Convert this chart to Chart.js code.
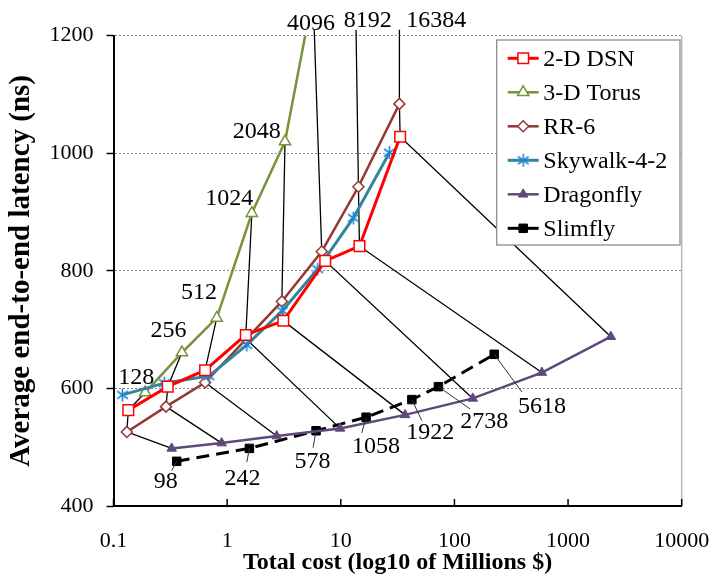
<!DOCTYPE html>
<html>
<head>
<meta charset="utf-8">
<title>Latency vs cost</title>
<script src="https://cdn.jsdelivr.net/npm/chart.js@4.4.1/dist/chart.umd.min.js"></script>
<style>
  html, body { margin: 0; padding: 0; background: #fff; }
  #wrap { width: 713px; height: 576px; }
</style>
</head>
<body>
<div id="wrap"><canvas id="chart" width="713" height="576"></canvas></div>
<script>
// node counts shared by the regular topologies (one entry per size)
const nodeCounts = [128, 256, 512, 1024, 2048, 4096, 8192, 16384];

// total cost in millions $, average latency in ns
const dsnCost = [0.135, 0.30, 0.64, 1.46, 3.12, 7.3, 14.6, 33.3];
const dsnLatency = [563, 603, 631, 691, 715, 817, 842, 1028];

// 4096 and up run past the top of the latency axis
const torusCost = [0.19, 0.40, 0.81, 1.65, 3.23, 5.7, 12.7, 33];
const torusLatency = [593, 661, 720, 898, 1020, 1270, 1600, 2200];

const rr6Cost = [0.131, 0.29, 0.64, 1.47, 3.03, 6.8, 14.3, 32.8];
const rr6Latency = [526, 569, 610, 684, 748, 833, 943, 1084];

const skywalkCost = [0.12, 0.28, 0.69, 1.49, 3.06, 6.27, 12.9, 26.8];
const skywalkLatency = [589, 609, 621, 674, 732, 803, 890, 1001];

const dragonflyCost = [0.325, 0.895, 2.73, 9.86, 36.8, 145, 588, 2380];
const dragonflyLatency = [498, 507, 519, 532, 555, 583, 627, 688];

// slimfly has its own node counts
const slimflyNodes = [98, 242, 578, 1058, 1922, 2738, 5618];
const slimflyCost = [0.36, 1.57, 6.06, 16.7, 42.2, 72.3, 224];
const slimflyLatency = [476, 498, 528, 551, 581, 603, 658];

const costTicks = [0.1, 1, 10, 100, 1000, 10000];
const latencyTicks = [400, 600, 800, 1000, 1200];

const SERIF = "'Liberation Serif', 'Times New Roman', Times, serif";
Chart.defaults.font.family = SERIF;
Chart.defaults.color = '#000';

function pts(xs, ys) {
  return xs.map((x, i) => ({ x: x, y: ys[i] }));
}

// six-spoke asterisk marker for Skywalk
function makeAsterisk(color) {
  const c = document.createElement('canvas');
  c.width = 15; c.height = 15;
  const g = c.getContext('2d');
  g.strokeStyle = color;
  g.lineWidth = 1.6;
  [90, 35, -35].forEach(deg => {
    const r = 6.5, a = deg * Math.PI / 180;
    g.beginPath();
    g.moveTo(7.5 - r * Math.cos(a), 7.5 - r * Math.sin(a));
    g.lineTo(7.5 + r * Math.cos(a), 7.5 + r * Math.sin(a));
    g.stroke();
  });
  return c;
}

// thin black links joining the same node count across topologies
const groupLinks = nodeCounts.map((n, i) => {
  const upper = [
    { x: torusCost[i], y: torusLatency[i] },
    { x: rr6Cost[i], y: rr6Latency[i] },
    { x: dsnCost[i], y: dsnLatency[i] }
  ].sort((a, b) => b.y - a.y);
  return upper.concat([{ x: dragonflyCost[i], y: dragonflyLatency[i] }]);
});

const datasets = [
  {
    label: '2-D DSN', data: pts(dsnCost, dsnLatency),
    borderColor: '#FF0000', borderWidth: 3,
    pointStyle: 'rect', pointRadius: 7.5, pointBorderWidth: 1.5,
    pointBorderColor: '#FF0000', pointBackgroundColor: '#FFFFFF', order: 1
  },
  {
    label: '3-D Torus', data: pts(torusCost, torusLatency),
    borderColor: '#77933C', borderWidth: 2.5,
    pointStyle: 'triangle', pointRadius: 6.5, pointBorderWidth: 1.5,
    pointBorderColor: '#77933C', pointBackgroundColor: '#FFFFFF', order: 3
  },
  {
    label: 'RR-6', data: pts(rr6Cost, rr6Latency),
    borderColor: '#953735', borderWidth: 2.5,
    pointStyle: 'rectRot', pointRadius: 5.5, pointBorderWidth: 1.5,
    pointBorderColor: '#953735', pointBackgroundColor: '#FFFFFF', order: 4
  },
  {
    label: 'Skywalk-4-2', data: pts(skywalkCost, skywalkLatency),
    borderColor: '#31859C', borderWidth: 3,
    pointStyle: makeAsterisk('#1F86D8'), pointRadius: 7, pointBorderWidth: 0,
    pointBorderColor: '#1F86D8', pointBackgroundColor: '#1F86D8', order: 2
  },
  {
    label: 'Dragonfly', data: pts(dragonflyCost, dragonflyLatency),
    borderColor: '#5F497A', borderWidth: 2.5,
    pointStyle: 'triangle', pointRadius: 5.5, pointBorderWidth: 1,
    pointBorderColor: '#5F497A', pointBackgroundColor: '#5F497A', order: 5
  },
  {
    label: 'Slimfly', data: pts(slimflyCost, slimflyLatency),
    borderColor: '#000000', borderWidth: 3, borderDash: [13, 7],
    pointStyle: 'rect', pointRadius: 6, pointBorderWidth: 1,
    pointBorderColor: '#000000', pointBackgroundColor: '#000000', order: 6
  }
];
datasets.forEach(ds => { ds.clip = 0; });

groupLinks.forEach((link, i) => {
  datasets.push({
    label: 'N=' + nodeCounts[i], data: link, isLink: true,
    borderColor: '#000000', borderWidth: 1.3, pointRadius: 0,
    clip: { left: 0, top: 6, right: 0, bottom: 0 }, order: 10
  });
});

// label placement: [dx of text centre, dy of baseline]
const groupLabelShift = [[-9, -9], [-13.4, -16], [-17.7, -18.7], [-22.7, -8], [-28.3, -3.4],
  [-3.5, -5.7], [11.5, -8.7], [36.7, -8.7]];
const slimLabelShift = [[-11, 27], [-6.8, 36.7], [-3.5, 37], [9.8, 35.7], [18.3, 39], [45.8, 41.3], [47.7, 58.7]];
const slimLeaderEnd = [[-5, 9.3], [-2.6, 13.7], [-3, 17], [-4.3, 15.7], [10, 21], [31.7, 22.3], [27.7, 37.7]];

// right frame line and inward x ticks
const framePlugin = {
  id: 'frame',
  beforeDatasetsDraw(chart) {
    const { ctx, chartArea: a, scales: { x } } = chart;
    ctx.save();
    ctx.strokeStyle = '#B8B8B8';
    ctx.lineWidth = 1.5;
    ctx.beginPath();
    ctx.moveTo(a.right, a.top);
    ctx.lineTo(a.right, a.bottom);
    ctx.stroke();
    ctx.strokeStyle = '#000';
    ctx.lineWidth = 1.5;
    x.ticks.forEach(t => {
      const px = x.getPixelForValue(t.value);
      ctx.beginPath();
      ctx.moveTo(px, a.bottom);
      ctx.lineTo(px, a.bottom - 7);
      ctx.stroke();
    });
    ctx.restore();
  }
};

// node count labels and slimfly labels with leader lines
const labelPlugin = {
  id: 'nodeLabels',
  afterDatasetsDraw(chart) {
    const { ctx, chartArea: a, scales: { x, y } } = chart;
    ctx.save();
    ctx.font = '24px ' + SERIF;
    ctx.fillStyle = '#000';
    ctx.textAlign = 'center';
    ctx.textBaseline = 'alphabetic';

    nodeCounts.forEach((n, i) => {
      const px = x.getPixelForValue(torusCost[i]);
      const py = y.getPixelForValue(torusLatency[i]);
      const s = groupLabelShift[i];
      if (py >= a.top) {
        ctx.fillText(String(n), px + s[0], py + s[1]);
      } else {
        // where the link leaves the top of the plot
        const p1 = groupLinks[i][1];
        const qx = x.getPixelForValue(p1.x), qy = y.getPixelForValue(p1.y);
        const cx = px + (qx - px) * (a.top - py) / (qy - py);
        ctx.fillText(String(n), cx + s[0], a.top + s[1]);
      }
    });

    ctx.strokeStyle = '#333';
    ctx.lineWidth = 1;
    slimflyNodes.forEach((n, i) => {
      const px = x.getPixelForValue(slimflyCost[i]);
      const py = y.getPixelForValue(slimflyLatency[i]);
      const e = slimLeaderEnd[i], s = slimLabelShift[i];
      ctx.beginPath();
      ctx.moveTo(px, py);
      ctx.lineTo(px + e[0], py + e[1]);
      ctx.stroke();
      ctx.fillText(String(n), px + s[0], py + s[1]);
    });
    ctx.restore();
  }
};

// boxed legend inside the plot, line sample plus marker
const legendPlugin = {
  id: 'boxLegend',
  afterDraw(chart) {
    const { ctx, chartArea: a } = chart;
    const left = a.right - 185, top = a.top + 4.3, w = 183.3, h = 205;
    ctx.save();
    ctx.fillStyle = '#fff';
    ctx.fillRect(left, top, w, h);
    ctx.strokeStyle = '#8C8C8C';
    ctx.lineWidth = 1.3;
    ctx.strokeRect(left, top, w, h);
    ctx.font = '24px ' + SERIF;
    ctx.textAlign = 'left';
    ctx.textBaseline = 'alphabetic';
    chart.data.datasets.filter(ds => !ds.isLink).forEach((ds, i) => {
      const cy = top + 18.3 + i * 34;
      ctx.setLineDash([]);
      ctx.strokeStyle = ds.borderColor;
      ctx.lineWidth = ds.borderWidth;
      ctx.beginPath();
      ctx.moveTo(left + 11, cy);
      ctx.lineTo(left + 42, cy);
      ctx.stroke();
      ctx.fillStyle = ds.pointBackgroundColor;
      ctx.strokeStyle = ds.pointBorderColor;
      ctx.lineWidth = ds.pointBorderWidth;
      Chart.helpers.drawPoint(ctx, {
        pointStyle: ds.pointStyle, radius: ds.pointRadius,
        borderWidth: ds.pointBorderWidth, rotation: 0
      }, left + 26.5, cy);
      ctx.fillStyle = '#000';
      ctx.fillText(ds.label, left + 46.6, cy + 7.5);
    });
    ctx.restore();
  }
};

new Chart(document.getElementById('chart'), {
  type: 'line',
  data: { datasets: datasets },
  options: {
    responsive: false,
    animation: false,
    devicePixelRatio: 1,
    events: [],
    layout: { padding: { left: 0, top: 35.7, right: 31.3, bottom: 0 } },
    plugins: { legend: { display: false }, tooltip: { enabled: false } },
    scales: {
      x: {
        type: 'logarithmic', min: 0.1, max: 10000,
        afterBuildTicks: s => { s.ticks = costTicks.map(v => ({ value: v })); },
        afterFit: s => { s.height = 70; s.paddingLeft = 0; s.paddingRight = 0; },
        ticks: {
          autoSkip: false, maxRotation: 0, padding: 22,
          font: { size: 22 }, color: '#000',
          callback: v => String(v)
        },
        grid: { display: true, drawOnChartArea: false, drawTicks: false },
        border: { display: true, color: '#000', width: 2 },
        title: {
          display: true, text: 'Total cost (log10 of Millions $)',
          font: { size: 24, weight: 'bold', lineHeight: 1 }, padding: { top: 0, bottom: 1 }
        }
      },
      y: {
        min: 400, max: 1200,
        afterBuildTicks: s => { s.ticks = latencyTicks.map(v => ({ value: v })); },
        afterFit: s => { s.width = 113.5; s.paddingTop = 0; s.paddingBottom = 0; },
        ticks: { padding: 13, font: { size: 22 }, color: '#000', callback: v => String(v) },
        grid: {
          color: c => (c.tick && c.tick.value === 400) ? 'rgba(0,0,0,0)' : '#8C8C8C',
          lineWidth: 1, tickColor: '#000', tickLength: 7, tickWidth: 1.5, tickBorderDash: []
        },
        border: { display: true, color: '#000', width: 2, dash: [2, 2] },
        title: {
          display: true, text: 'Average end-to-end latency (ns)',
          font: { size: 29, weight: 'bold', lineHeight: 1 }, padding: { top: 7, bottom: 0 }
        }
      }
    }
  },
  plugins: [framePlugin, labelPlugin, legendPlugin]
});
</script>
</body>
</html>
